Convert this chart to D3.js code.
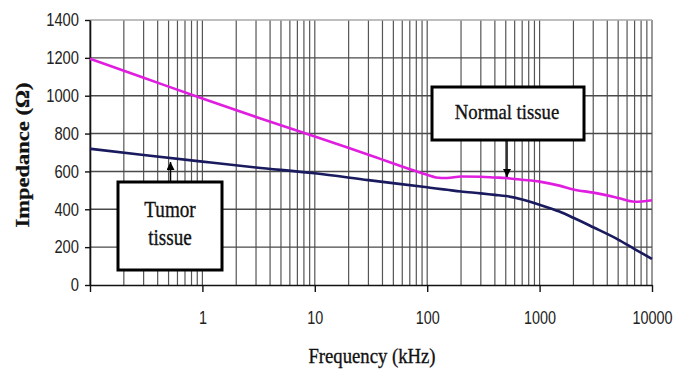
<!DOCTYPE html>
<html>
<head>
<meta charset="utf-8">
<script src="https://cdn.jsdelivr.net/npm/d3@7"></script>
<style>
  html, body { margin: 0; padding: 0; background: #fff; }
  svg { display: block; }
</style>
</head>
<body>
<svg id="chart" width="673" height="372"></svg>
<script>
// ---- data ----
const frequencies = [0.1, 0.3, 1, 3, 10, 30, 100, 120, 150, 200, 300, 400, 500, 700, 1000, 1500, 2000, 3000, 5000, 7000, 10000];
const normalTissue = [1195, 1095, 985, 888, 785, 688, 582, 568, 565, 573, 572, 568, 565, 556, 546, 525, 505, 488, 460, 440, 448];
const tumorTissue  = [720, 687, 652, 621, 590, 554, 516, 510, 503, 494, 484, 476, 470, 452, 424, 388, 355, 305, 240, 190, 138];
const xTickValues = [0.1, 1, 10, 100, 1000, 10000];
const xTickLabels = ["", "1", "10", "100", "1000", "10000"];
const yTickValues = [0, 200, 400, 600, 800, 1000, 1200, 1400];
const labelNormal = "Normal tissue";
const labelTumor = ["Tumor", "tissue"];
const xTitle = "Frequency (kHz)";
const yTitle = "Impedance (\u03A9)";

// ---- layout ----
const svg = d3.select("#chart");
const x = d3.scaleLog().domain([0.1, 10000]).range([90, 652]);
const y = d3.scaleLinear().domain([0, 1400]).range([285, 20]);

// grid
const minor = [];
[0.1, 1, 10, 100, 1000].forEach(d => { for (let k = 1; k <= 9; k++) minor.push(d * k); });
minor.push(10000);
const grid = svg.append("g");
grid.selectAll("line.v").data(minor).enter().append("line")
  .attr("x1", d => x(d)).attr("x2", d => x(d))
  .attr("y1", y(0)).attr("y2", y(1400))
  .attr("stroke", "#555").attr("stroke-width", 1.2);
grid.selectAll("line.h").data(yTickValues.filter(v => v > 0)).enter().append("line")
  .attr("x1", x(0.1)).attr("x2", x(10000))
  .attr("y1", d => y(d)).attr("y2", d => y(d))
  .attr("stroke", d => d === 1400 ? "#a8a8a8" : "#4a4a4a").attr("stroke-width", 1.4);

// axes
const xAxis = d3.axisBottom(x).tickValues(xTickValues)
  .tickFormat((d, i) => xTickLabels[i]).tickSize(7).tickSizeOuter(0).tickPadding(19);
const gx = svg.append("g").attr("transform", `translate(0,${y(0)})`).call(xAxis);
const yAxis = d3.axisLeft(y).tickValues(yTickValues).tickFormat(d3.format("d"))
  .tickSize(5).tickSizeOuter(0);
const gy = svg.append("g").attr("transform", `translate(${x(0.1)},0)`).call(yAxis);
[gx, gy].forEach(g => {
  g.select(".domain").attr("stroke", "#111").attr("stroke-width", 1.6);
  g.selectAll(".tick line").attr("stroke", "#111").attr("stroke-width", 1.4);
  g.selectAll(".tick text")
    .attr("font-family", "'Liberation Sans', Arial, sans-serif")
    .attr("font-size", 18).attr("fill", "#222");
});
gx.selectAll(".tick text").attr("transform", "scale(0.8,1)");
gy.selectAll(".tick text").attr("x", -11 / 0.82).attr("transform", "scale(0.82,1)");

// lines
const line = vals => d3.line()
  .x((d, i) => x(frequencies[i]))
  .y(d => y(d))
  .curve(d3.curveMonotoneX)(vals);
svg.append("path").attr("d", line(normalTissue))
  .attr("fill", "none").attr("stroke", "#e01ee0").attr("stroke-width", 2.6);
svg.append("path").attr("d", line(tumorTissue))
  .attr("fill", "none").attr("stroke", "#1a1a5e").attr("stroke-width", 2.6);

// arrow marker
svg.append("defs").append("marker")
  .attr("id", "ah").attr("viewBox", "0 0 10 10").attr("refX", 10).attr("refY", 5)
  .attr("markerWidth", 8).attr("markerHeight", 8).attr("markerUnits", "userSpaceOnUse")
  .attr("orient", "auto")
  .append("path").attr("d", "M0,0 L10,5 L0,10 Z").attr("fill", "#000");

const serif = "'Liberation Serif', 'Times New Roman', serif";
const serifText = sel => sel.attr("font-family", serif).attr("fill", "#111")
  .attr("stroke", "#111").attr("stroke-width", 0.35).attr("text-anchor", "middle");

// Normal tissue annotation
svg.append("line").attr("x1", 507).attr("x2", 507).attr("y1", 141).attr("y2", 177)
  .attr("stroke", "#000").attr("stroke-width", 1.5).attr("marker-end", "url(#ah)");
svg.append("rect").attr("x", 432).attr("y", 87).attr("width", 152).attr("height", 53)
  .attr("fill", "#fff").attr("stroke", "#000").attr("stroke-width", 3);
svg.append("text").attr("transform", "translate(507,119) scale(0.85,1)")
  .call(serifText).attr("font-size", 22).text(labelNormal);

// Tumor tissue annotation
svg.append("line").attr("x1", 170.5).attr("x2", 170.5).attr("y1", 181).attr("y2", 162)
  .attr("stroke", "#000").attr("stroke-width", 1.5).attr("marker-end", "url(#ah)");
svg.append("rect").attr("x", 118).attr("y", 182).attr("width", 104).attr("height", 88)
  .attr("fill", "#fff").attr("stroke", "#000").attr("stroke-width", 3);
labelTumor.forEach((t, i) => {
  svg.append("text").attr("transform", `translate(170,${217 + i * 27.5}) scale(0.85,1)`)
    .call(serifText).attr("font-size", 22.5).text(t);
});

// axis titles
svg.append("text").attr("transform", "translate(372,363) scale(0.85,1)")
  .call(serifText).attr("font-size", 22).text(xTitle);
svg.append("text").attr("transform", "translate(29,155) rotate(-90) scale(1,0.8)")
  .call(serifText).attr("font-size", 22.5).attr("font-weight", "bold").text(yTitle);
</script>
</body>
</html>
